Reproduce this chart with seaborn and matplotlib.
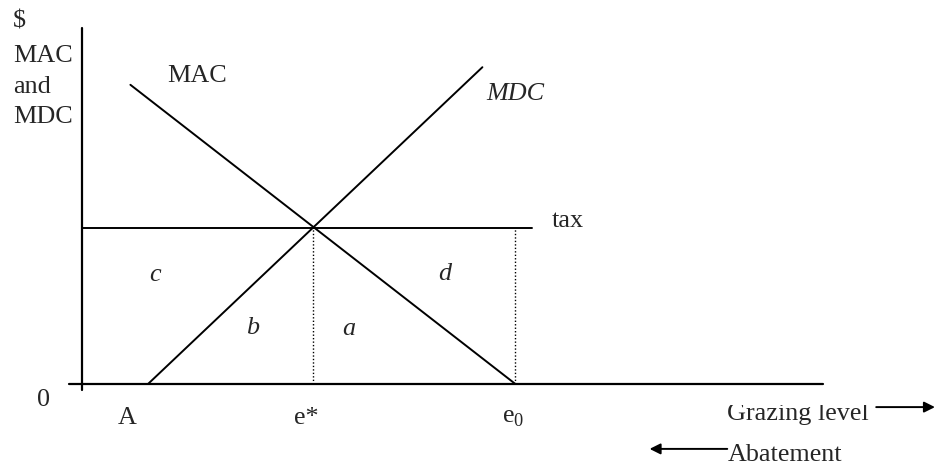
import numpy as np
import pandas as pd
import matplotlib
matplotlib.use('Agg')
import matplotlib.pyplot as plt
import seaborn as sns
from matplotlib.transforms import Bbox, TransformedBbox

# curve end points (abatement-cost diagram, arbitrary units)
mac_x = [2.2, 19.7]
mac_y = [13.6, 0.0]
mdc_x = [3.0, 18.2]
mdc_y = [0.0, 14.4]
tax_x = [0.0, 20.45]
tax_level = 7.1
e_star = 10.5
e_zero = 19.7
point_a = 3.0
x_ticks = [point_a, e_star, e_zero]
x_tick_labels = ['A', 'e*', r'e$_{\mathrm{0}}$']
area_labels = ['c', 'd', 'b', 'a']
y_axis_label = ['$', 'MAC', 'and', 'MDC']

sns.set_style('white')
plt.rcParams['font.family'] = ['Liberation Serif', 'DejaVu Serif']
plt.rcParams['mathtext.fontset'] = 'custom'
plt.rcParams['mathtext.rm'] = 'Liberation Serif'

fig = plt.figure(figsize=(9.35, 4.7), dpi=100)
ax = fig.add_axes([0, 0, 1, 1])
ax.set_xlim(-82 / 22, 853 / 22)
ax.set_ylim(-86 / 22, 384 / 22)
ax.axis('off')

fs = 18.8
lw = 1.4

# axes
sns.lineplot(x=[-0.6, 33.7], y=[0, 0], ax=ax, color='black', lw=1.6, estimator=None)
sns.lineplot(x=[0, 0], y=[-0.27, 16.2], ax=ax, color='black', lw=1.6, estimator=None, orient='y')

# curves
mac = pd.DataFrame({'x': mac_x, 'y': mac_y})
mdc = pd.DataFrame({'x': mdc_x, 'y': mdc_y})
sns.lineplot(data=mac, x='x', y='y', ax=ax, color='black', lw=lw, estimator=None)
sns.lineplot(data=mdc, x='x', y='y', ax=ax, color='black', lw=lw, estimator=None)
sns.lineplot(x=tax_x, y=[tax_level] * 2, ax=ax, color='black', lw=lw, estimator=None)

# dotted guides
ax.vlines([e_star, e_zero], 0, tax_level, colors='black', lw=1.0,
          linestyles=(0, (1, 1.5)))

# y-axis label stack
for txt, yb in zip(y_axis_label, [16.2, 14.64, 13.23, 11.86]):
    ax.text(-3.14, yb, txt, fontsize=fs, va='baseline', ha='left')

ax.text(3.86, 13.73, 'MAC', fontsize=fs, va='baseline', ha='left')
ax.text(18.4, 12.9, 'MDC', fontsize=fs, va='baseline', ha='left', style='italic')
ax.text(21.36, 7.14, 'tax', fontsize=fs, va='baseline', ha='left')

for lab, (x, y) in zip(area_labels, [(3.32, 4.95), (16.5, 5.0), (7.77, 2.55), (12.14, 2.5)]):
    ax.text(x, y, lab, fontsize=fs, style='italic', ha='center', va='center')

ax.text(-1.77, -0.73, '0', fontsize=fs, ha='center', va='center')
for x, lab, dx in zip(x_ticks, x_tick_labels, [-0.95, -0.3, -0.1]):
    ax.text(x + dx, -1.55, lab, fontsize=fs, ha='center', va='center')

# axis captions with arrows (top of "Grazing level" is cut off as in the source)
g = ax.text(29.3, -1.64, 'Grazing level', fontsize=fs, va='baseline', ha='left')
g.set_clip_box(TransformedBbox(Bbox([[-10, -10], [50, -0.955]]), ax.transData))
g.set_clip_on(True)
ax.annotate('', xy=(38.77, -1.05), xytext=(36.1, -1.05),
            arrowprops=dict(arrowstyle='-|>', color='black', lw=1.4,
                            mutation_scale=16, shrinkA=0, shrinkB=0))
ax.text(29.33, -3.5, 'Abatement', fontsize=fs, va='baseline', ha='left')
ax.annotate('', xy=(25.8, -2.95), xytext=(29.33, -2.95),
            arrowprops=dict(arrowstyle='-|>', color='black', lw=1.4,
                            mutation_scale=16, shrinkA=0, shrinkB=0))

fig.savefig('out.png', dpi=100)
